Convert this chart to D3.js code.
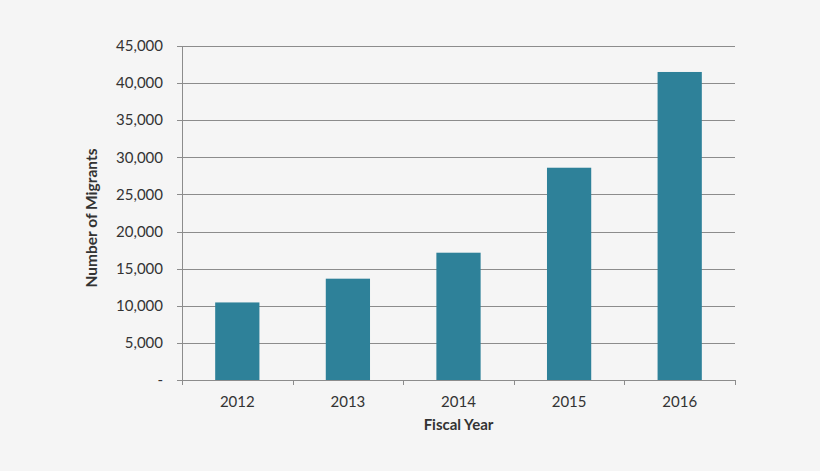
<!DOCTYPE html>
<html>
<head>
<meta charset="utf-8">
<script src="https://cdn.jsdelivr.net/npm/d3@7"></script>
<style>
  body { margin: 0; background: #f5f5f5; }
  text { font-family: Lato, "Open Sans", sans-serif; fill: #333; }
</style>
</head>
<body>
<div class="chart"></div>
<script>

var years = ["2012", "2013", "2014", "2015", "2016"];
var migrants = [10450, 13650, 17150, 28600, 41500];
var yTicks = [0, 5000, 10000, 15000, 20000, 25000, 30000, 35000, 40000, 45000];

var width = 820, height = 471;
var margin = {top: 46, right: 85, bottom: 91, left: 182};

var svg = d3.select("div.chart")
    .append("svg")
    .attr("width", width)
    .attr("height", height);

svg.append("rect")
    .attr("width", width)
    .attr("height", height)
    .attr("fill", "#f5f5f5");

var x = d3.scaleBand()
    .domain(years)
    .range([margin.left, width - margin.right])
    .paddingInner(0.6)
    .paddingOuter(0.3);

var y = d3.scaleLinear()
    .domain([0, 45000])
    .range([height - margin.bottom, margin.top]);

var fmt = d3.format(",");

// gridlines
svg.append("g")
    .selectAll("line")
    .data(yTicks)
    .enter()
    .append("line")
    .attr("x1", margin.left - 5)
    .attr("x2", width - margin.right)
    .attr("y1", function (d) { return Math.round(y(d)) + 0.5; })
    .attr("y2", function (d) { return Math.round(y(d)) + 0.5; })
    .attr("stroke", "#8c8c8c")
    .attr("stroke-width", 1);

// y labels
svg.append("g")
    .selectAll("text")
    .data(yTicks)
    .enter()
    .append("text")
    .attr("x", margin.left - 19)
    .attr("y", function (d) { return y(d); })
    .attr("dy", "0.35em")
    .attr("text-anchor", "end")
    .style("font-size", "15px")
    .text(function (d) { return d === 0 ? "-" : fmt(d); });

// bars
svg.append("g")
    .selectAll("rect")
    .data(migrants)
    .enter()
    .append("rect")
    .attr("x", function (d, i) { return x(years[i]); })
    .attr("width", x.bandwidth())
    .attr("y", function (d) { return y(d); })
    .attr("height", function (d) { return y(0) - y(d); })
    .attr("fill", "#2e8199");

// y axis line
svg.append("line")
    .attr("x1", margin.left + 0.5)
    .attr("x2", margin.left + 0.5)
    .attr("y1", y(45000))
    .attr("y2", y(0))
    .attr("stroke", "#8c8c8c");

// x axis ticks sit between categories
var bounds = d3.range(years.length + 1).map(function (i) {
    return margin.left + i * (width - margin.left - margin.right) / years.length;
});

svg.append("g")
    .selectAll("line")
    .data(bounds)
    .enter()
    .append("line")
    .attr("x1", function (d) { return Math.round(d) + 0.5; })
    .attr("x2", function (d) { return Math.round(d) + 0.5; })
    .attr("y1", Math.round(y(0)))
    .attr("y2", Math.round(y(0)) + 5)
    .attr("stroke", "#8c8c8c");

svg.append("g")
    .selectAll("text")
    .data(years)
    .enter()
    .append("text")
    .attr("x", function (d) { return x(d) + x.bandwidth() / 2; })
    .attr("y", y(0) + 27)
    .attr("text-anchor", "middle")
    .style("font-size", "15px")
    .text(function (d) { return d; });

// axis titles
svg.append("text")
    .attr("x", (margin.left + width - margin.right) / 2)
    .attr("y", 430)
    .attr("text-anchor", "middle")
    .style("font-size", "15px")
    .style("font-weight", "bold")
    .text("Fiscal Year");

svg.append("text")
    .attr("transform", "translate(97," + ((margin.top + y(0)) / 2 + 5) + ") rotate(-90)")
    .attr("text-anchor", "middle")
    .style("font-size", "15.5px")
    .style("font-weight", "bold")
    .text("Number of Migrants");

</script>
</body>
</html>
